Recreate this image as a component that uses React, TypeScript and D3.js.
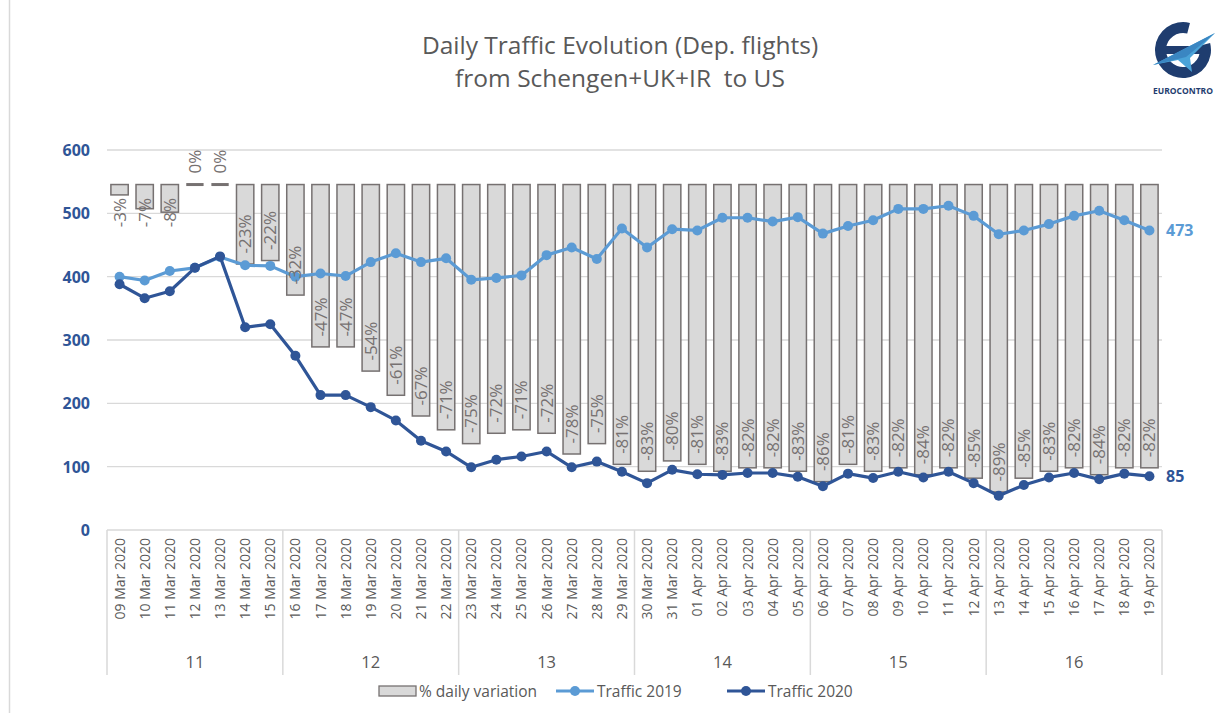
import React from "react";
import * as d3 from "d3";

const dates = [
  "09 Mar 2020","10 Mar 2020","11 Mar 2020","12 Mar 2020","13 Mar 2020","14 Mar 2020","15 Mar 2020",
  "16 Mar 2020","17 Mar 2020","18 Mar 2020","19 Mar 2020","20 Mar 2020","21 Mar 2020","22 Mar 2020",
  "23 Mar 2020","24 Mar 2020","25 Mar 2020","26 Mar 2020","27 Mar 2020","28 Mar 2020","29 Mar 2020",
  "30 Mar 2020","31 Mar 2020","01 Apr 2020","02 Apr 2020","03 Apr 2020","04 Apr 2020","05 Apr 2020",
  "06 Apr 2020","07 Apr 2020","08 Apr 2020","09 Apr 2020","10 Apr 2020","11 Apr 2020","12 Apr 2020",
  "13 Apr 2020","14 Apr 2020","15 Apr 2020","16 Apr 2020","17 Apr 2020","18 Apr 2020","19 Apr 2020",
];
const weeks = ["11", "12", "13", "14", "15", "16"];
const traffic2019 = [
  400, 394, 409, 414, 431, 418, 417,
  400, 405, 401, 423, 437, 423, 429,
  395, 398, 402, 434, 446, 428, 476,
  446, 475, 473, 493, 493, 487, 494,
  468, 480, 489, 507, 507, 512, 496,
  467, 473, 483, 496, 504, 489, 473,
];
const traffic2020 = [
  388, 366, 377, 414, 432, 320, 325,
  275, 213, 213, 194, 173, 141, 124,
  99, 111, 116, 124, 99, 108, 92,
  74, 95, 88, 87, 90, 90, 84,
  69, 89, 82, 92, 83, 92, 74,
  54, 71, 83, 90, 80, 89, 85,
];
const variation = [
  -3, -7, -8, 0, 0, -23, -22,
  -32, -47, -47, -54, -61, -67, -71,
  -75, -72, -71, -72, -78, -75, -81,
  -83, -80, -81, -83, -82, -82, -83,
  -86, -81, -83, -82, -84, -82, -85,
  -89, -85, -83, -82, -84, -82, -82,
];
const leftTicks = [0, 100, 200, 300, 400, 500, 600];

const C19 = "#5b9bd5";
const C20 = "#2f5597";
const GRID = "#d9d9d9";
const TXT = "#595959";
const BAR_FILL = "#d9d9d9";
const BAR_STROKE = "#767171";
const FONT = "'Open Sans', 'Noto Sans', sans-serif";

export default function App() {
  const W = 1216, H = 713;
  const left = 107, right = 1162, top = 150, bottom = 530;

  const x = d3.scaleBand<string>().domain(dates).range([left, right]).paddingInner(0.31).paddingOuter(0.155);
  const yL = d3.scaleLinear().domain([0, 600]).range([bottom, top]);
  const yR = d3.scaleLinear().domain([-100, 10]).range([bottom, top]);
  const cx = (d: string) => (x(d) as number) + x.bandwidth() / 2;
  const step = x.step();

  const line = d3.line<number>().x((_, i) => cx(dates[i])).y((v) => yL(v));

  const weekBounds = weeks.map((w, k) => {
    const first = dates[k * 7];
    const last = dates[k * 7 + 6];
    const x0 = (x(first) as number) - (step - x.bandwidth()) / 2;
    const x1 = (x(last) as number) + x.bandwidth() + (step - x.bandwidth()) / 2;
    return { w, x0, x1 };
  });

  const n = dates.length - 1;
  const ringArc = (d3.arc() as any)({ innerRadius: 17, outerRadius: 28, startAngle: 0.42 * Math.PI, endAngle: 2.08 * Math.PI });

  return (
    <svg width={W} height={H} style={{ position: "absolute", left: 0, top: 0, background: "#fff" }} fontFamily={FONT}>
      <rect x={0} y={0} width={W} height={H} fill="#fff" />
      <line x1={9.5} x2={9.5} y1={0} y2={H} stroke={GRID} strokeWidth={1.5} />

      {/* Title */}
      <text x={620} y={54} textAnchor="middle" fontSize={24.5} fill={TXT}>Daily Traffic Evolution (Dep. flights)</text>
      <text x={620} y={87} textAnchor="middle" fontSize={24.5} fill={TXT} style={{ whiteSpace: "pre" }}>{"from Schengen+UK+IR  to US"}</text>

      {/* Logo */}
      <g>
        <path d={ringArc} transform="translate(1183,50)" fill="#1f3d6f" />
        <rect x={1163} y={46} width={40} height={8} fill="#1f3d6f" />
        <path d="M1153,65 L1215,33 L1190,58 L1192,72 L1178,60 Z" fill="#4aa3d8" />
        <path d="M1153,65 L1215,33 L1186,57 Z" fill="#3a86c2" />
        <text x={1153} y={94} fontSize={9} fontWeight={700} fill="#1f3d6f" textLength={60} lengthAdjust="spacingAndGlyphs">EUROCONTRO</text>
      </g>

      {/* gridlines */}
      {leftTicks.filter((t) => t > 0).map((t) => (
        <line key={t} x1={left} x2={right} y1={yL(t)} y2={yL(t)} stroke={GRID} strokeWidth={1.3} />
      ))}
      {leftTicks.map((t) => (
        <text key={t} x={90} y={yL(t) + 6} textAnchor="end" fontSize={16} fontWeight={700} fill={C20}>{t}</text>
      ))}

      {/* bars */}
      {variation.map((v, i) => {
        const bx = x(dates[i]) as number;
        const y0 = yR(0);
        const y1 = yR(v);
        if (v === 0) {
          return <line key={i} x1={bx} x2={bx + x.bandwidth()} y1={y0} y2={y0} stroke={BAR_STROKE} strokeWidth={3} />;
        }
        return (
          <rect key={i} x={bx} y={y0} width={x.bandwidth()} height={y1 - y0} fill={BAR_FILL} stroke={BAR_STROKE} strokeWidth={1.5} />
        );
      })}

      {/* category axis */}
      <line x1={left} x2={right} y1={bottom} y2={bottom} stroke={GRID} strokeWidth={1.5} />
      {weekBounds.map((b, k) => (
        <g key={b.w}>
          {k === 0 && <line x1={b.x0} x2={b.x0} y1={bottom} y2={675} stroke={GRID} strokeWidth={1.5} />}
          <line x1={b.x1} x2={b.x1} y1={bottom} y2={675} stroke={GRID} strokeWidth={1.5} />
          <text x={(b.x0 + b.x1) / 2} y={668} textAnchor="middle" fontSize={16.5} fill={TXT}>{b.w}</text>
        </g>
      ))}
      {dates.map((d) => (
        <text key={d} transform={`translate(${cx(d) + 5},${538}) rotate(-90)`} textAnchor="end" fontSize={14} fill={TXT}>{d}</text>
      ))}

      {/* lines */}
      <path d={line(traffic2019) as string} fill="none" stroke={C19} strokeWidth={3.2} strokeLinejoin="round" />
      {traffic2019.map((v, i) => (
        <circle key={i} cx={cx(dates[i])} cy={yL(v)} r={5} fill={C19} />
      ))}
      <path d={line(traffic2020) as string} fill="none" stroke={C20} strokeWidth={3.2} strokeLinejoin="round" />
      {traffic2020.map((v, i) => (
        <circle key={i} cx={cx(dates[i])} cy={yL(v)} r={5} fill={C20} />
      ))}

      {/* bar labels */}
      {variation.map((v, i) => {
        const c = cx(dates[i]);
        const yc = v === 0 ? yR(0) - 23 : Math.max(yR(v) - 30, yR(0) + 28);
        return (
          <text key={i} transform={`translate(${c + 6},${yc}) rotate(-90)`} textAnchor="middle" fontSize={17} fill={BAR_STROKE}>
            {`${v}%`}
          </text>
        );
      })}

      {/* end labels */}
      <text x={1166} y={yL(traffic2019[n]) + 6} fontSize={16} fontWeight={700} fill={C19}>{traffic2019[n]}</text>
      <text x={1166} y={yL(traffic2020[n]) + 6} fontSize={16} fontWeight={700} fill={C20}>{traffic2020[n]}</text>

      {/* legend */}
      <g fontSize={15.5} fill={TXT}>
        <rect x={379} y={686} width={37} height={10} fill={BAR_FILL} stroke={BAR_STROKE} strokeWidth={1.3} />
        <text x={419} y={697}>% daily variation</text>
        <line x1={556} x2={594} y1={691} y2={691} stroke={C19} strokeWidth={3.2} />
        <circle cx={575} cy={691} r={5} fill={C19} />
        <text x={597} y={697}>Traffic 2019</text>
        <line x1={727} x2={765} y1={691} y2={691} stroke={C20} strokeWidth={3.2} />
        <circle cx={746} cy={691} r={5} fill={C20} />
        <text x={768} y={697}>Traffic 2020</text>
      </g>
    </svg>
  );
}
